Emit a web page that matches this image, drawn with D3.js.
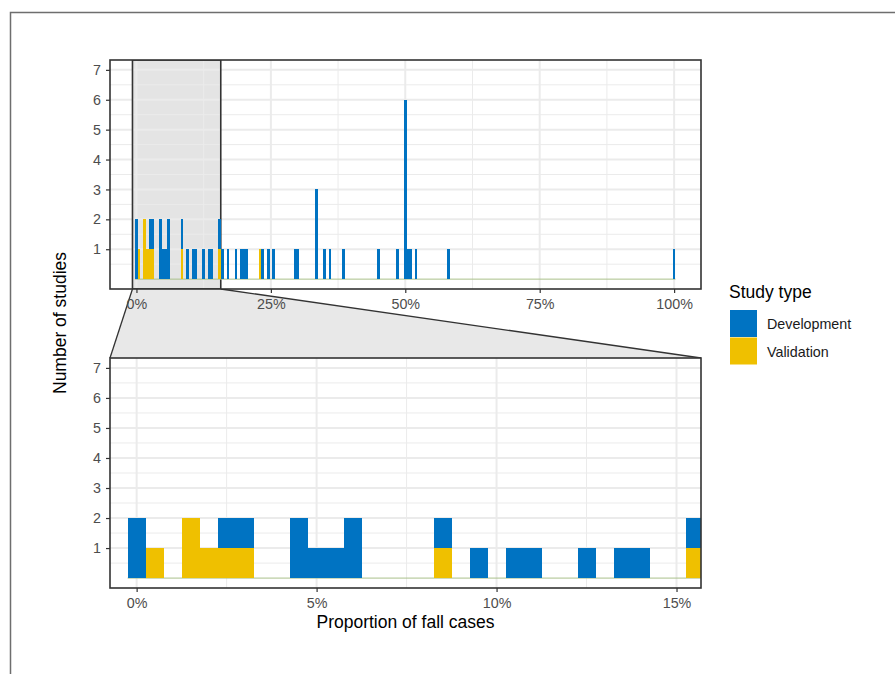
<!DOCTYPE html>
<html lang="en">
<head>
<meta charset="UTF-8">
<title>Proportion of fall cases</title>
<script src="https://d3js.org/d3.v7.min.js"></script>
<style>
  body { margin: 0; background: #fff; }
  svg { display: block; font-family: "Liberation Sans", Arial, sans-serif; }
  .axis text { font-size: 14.3px; fill: #4d4d4d; }
  .axis line { stroke: #333; stroke-width: 1.2; }
  .axis path { display: none; }
  .axis-title { font-size: 17.5px; fill: #000; }
  .legend-label { font-size: 14.3px; fill: #1a1a1a; }
</style>
</head>
<body>
<div id="chart"></div>
<script>
// histogram bins are 0.5% wide, each keyed by its centre (in %)
const devBins   = [0, 2.5, 3, 4.5, 5, 5.5, 6, 8.5, 9.5, 10.5, 11, 12.5, 13.5, 14,
                   15.5, 16, 17, 18.5, 19.5, 20, 20.5, 23.5, 24.5, 25.5, 29.5, 30,
                   33.5, 35, 36, 38.5, 45, 48.5, 50, 50.5, 51, 52, 58, 100];
const devCounts = [2, 1, 1, 2, 1, 1, 2, 1, 1, 1, 1, 1, 1, 1,
                   1, 1, 1, 1, 1, 1, 1, 1, 1, 1, 1, 1,
                   3, 1, 1, 1, 1, 1, 6, 1, 1, 1, 1, 1];
const valBins   = [0.5, 1.5, 2, 2.5, 3, 8.5, 15.5, 23];
const valCounts = [1, 2, 1, 1, 1, 1, 1, 1];

const studyTypes = ["Development", "Validation"];
const typeColors = ["#0073C2", "#EFC000"];
const yTicks = [1, 2, 3, 4, 5, 6, 7];
const yMinor = [0.5, 1.5, 2.5, 3.5, 4.5, 5.5, 6.5];
const topTicks = [0, 25, 50, 75, 100];
const topMinor = [12.5, 37.5, 62.5, 87.5];
const zoomTicks = [0, 5, 10, 15];
const zoomMinor = [2.5, 7.5, 12.5];
const zoomArea = [-0.74, 15.68];
const binWidth = 0.5;

// table for stacking
const allBins = Array.from(new Set(devBins.concat(valBins))).sort((a, b) => a - b);
const table = allBins.map(b => {
  const di = devBins.indexOf(b), vi = valBins.indexOf(b);
  return { bin: b, Development: di < 0 ? 0 : devCounts[di], Validation: vi < 0 ? 0 : valCounts[vi] };
});
const stacked = d3.stack().keys(["Validation", "Development"])(table);
const color = d3.scaleOrdinal().domain(studyTypes).range(typeColors);

const W = 895, H = 674;
const left = 110, right = 701;

const svg = d3.select("#chart").append("svg")
  .attr("width", W).attr("height", H);

// outer frame
svg.append("rect")
  .attr("x", 10.5).attr("y", 12.5).attr("width", 1000).attr("height", 1000)
  .attr("fill", "none").attr("stroke", "#6e6e6e").attr("stroke-width", 1.5);

const xTop = d3.scaleLinear().domain([-4.92, 105]).range([left, right]);
const xZoom = d3.scaleLinear().domain(zoomArea).range([left, right]);

function drawPanel(top, bottom, x, ticks, minor, id, isMain) {
  const y = d3.scaleLinear().domain([-0.33, 7.33]).range([bottom, top]);
  const g = svg.append("g");

  g.append("clipPath").attr("id", id)
    .append("rect").attr("x", left).attr("y", top)
    .attr("width", right - left).attr("height", bottom - top);

  g.append("rect").attr("x", left).attr("y", top)
    .attr("width", right - left).attr("height", bottom - top).attr("fill", "#fff");

  const inner = g.append("g").attr("clip-path", `url(#${id})`);

  if (isMain) {
    inner.append("rect")
      .attr("x", x(zoomArea[0])).attr("y", top)
      .attr("width", x(zoomArea[1]) - x(zoomArea[0])).attr("height", bottom - top)
      .attr("fill", "#e4e4e4");
  }

  // grid
  inner.selectAll(".ymin").data(yMinor).join("line")
    .attr("x1", left).attr("x2", right).attr("y1", d => y(d)).attr("y2", d => y(d))
    .attr("stroke", "#ebebeb").attr("stroke-width", 1);
  inner.selectAll(".xmin").data(minor).join("line")
    .attr("x1", d => x(d)).attr("x2", d => x(d)).attr("y1", top).attr("y2", bottom)
    .attr("stroke", "#ebebeb").attr("stroke-width", 1);
  inner.selectAll(".ymaj").data(yTicks).join("line")
    .attr("x1", left).attr("x2", right).attr("y1", d => y(d)).attr("y2", d => y(d))
    .attr("stroke", "#ebebeb").attr("stroke-width", 2);
  inner.selectAll(".xmaj").data(ticks).join("line")
    .attr("x1", d => x(d)).attr("x2", d => x(d)).attr("y1", top).attr("y2", bottom)
    .attr("stroke", "#ebebeb").attr("stroke-width", 2);

  if (isMain) {
    inner.append("rect")
      .attr("x", x(zoomArea[0])).attr("y", top)
      .attr("width", x(zoomArea[1]) - x(zoomArea[0])).attr("height", bottom - top)
      .attr("fill", "none").attr("stroke", "#333").attr("stroke-width", 1.6);
  }

  // zero-count baseline
  inner.append("line")
    .attr("x1", x(allBins[0] - binWidth / 2)).attr("x2", x(allBins[allBins.length - 1] + binWidth / 2))
    .attr("y1", y(0)).attr("y2", y(0))
    .attr("stroke", "#a9c08a").attr("stroke-width", 1);

  // stacked bars
  stacked.forEach(s => {
    inner.append("g").attr("fill", color(s.key)).attr("shape-rendering", "crispEdges")
      .selectAll("rect").data(s.filter(d => d[1] > d[0])).join("rect")
      .attr("x", d => x(d.data.bin - binWidth / 2))
      .attr("width", d => x(d.data.bin + binWidth / 2) - x(d.data.bin - binWidth / 2))
      .attr("y", d => y(d[1]))
      .attr("height", d => y(d[0]) - y(d[1]));
  });

  g.append("rect").attr("x", left).attr("y", top)
    .attr("width", right - left).attr("height", bottom - top)
    .attr("fill", "none").attr("stroke", "#333").attr("stroke-width", 1.6);

  g.append("g").attr("class", "axis")
    .attr("transform", `translate(${left},0)`)
    .call(d3.axisLeft(y).tickValues(yTicks).tickSize(4).tickPadding(5));

  g.append("g").attr("class", "axis")
    .attr("transform", `translate(0,${bottom})`)
    .call(d3.axisBottom(x).tickValues(ticks).tickFormat(d => d + "%").tickSize(4).tickPadding(5.5));

  return y;
}

// zoom connector (drawn first so the panels sit on top)
const topBottom = 289, zoomTop = 358;
svg.append("path")
  .attr("d", `M${xTop(zoomArea[0])},${topBottom} L${xTop(zoomArea[1])},${topBottom} L${right},${zoomTop} L${left},${zoomTop} Z`)
  .attr("fill", "#e8e8e8");
[[xTop(zoomArea[0]), left], [xTop(zoomArea[1]), right]].forEach(([a, b]) => {
  svg.append("line").attr("x1", a).attr("y1", topBottom).attr("x2", b).attr("y2", zoomTop)
    .attr("stroke", "#333").attr("stroke-width", 1.3);
});

drawPanel(60, topBottom, xTop, topTicks, topMinor, "clipTop", true);
drawPanel(zoomTop, 588, xZoom, zoomTicks, zoomMinor, "clipZoom", false);

// axis titles
svg.append("text").attr("class", "axis-title")
  .attr("x", (left + right) / 2).attr("y", 628).attr("text-anchor", "middle")
  .text("Proportion of fall cases");
svg.append("text").attr("class", "axis-title")
  .attr("transform", "translate(66,323) rotate(-90)").attr("text-anchor", "middle")
  .text("Number of studies");

// legend
const legend = svg.append("g").attr("transform", "translate(729,0)");
legend.append("text").attr("class", "axis-title").attr("x", 0).attr("y", 298).text("Study type");
studyTypes.forEach((t, i) => {
  legend.append("rect").attr("x", 1).attr("y", 310 + i * 27.5)
    .attr("width", 27).attr("height", 27).attr("fill", color(t));
  legend.append("text").attr("class", "legend-label")
    .attr("x", 38).attr("y", 329 + i * 27.5).text(t);
});
</script>
</body>
</html>
